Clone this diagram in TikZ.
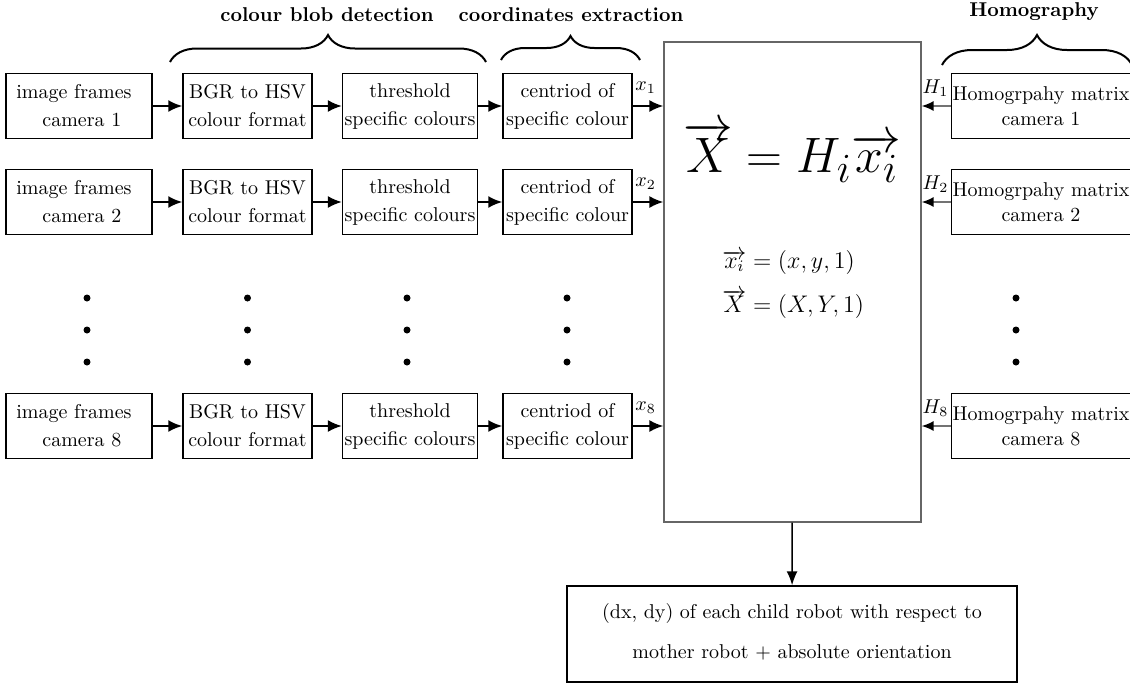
\documentclass[tikz,border=0pt]{standalone}
\usetikzlibrary{arrows.meta,decorations.pathreplacing}
\begin{document}
\begin{tikzpicture}[x=0.5pt,y=-0.5pt,
  stage/.style={draw, line width=0.7pt, minimum height=32.5pt, inner xsep=1pt,
    align=center, font=\fontsize{10}{14}\selectfont},
  hbox/.style={draw, line width=0.4pt, minimum height=32.5pt, minimum width=89pt,
    inner xsep=0.5pt, align=center, font=\fontsize{10}{12.5}\selectfont},
  flow/.style={line width=1pt, -{Latex[length=7pt,width=6pt]}},
  hflow/.style={draw=black!55, line width=0.8pt, -{Latex[length=6pt,width=5pt,color=black]}},
  head/.style={font=\bfseries},
  grp/.style={decorate, decoration={brace, amplitude=#1}, line width=1pt},
  dot/.style={circle, fill, inner sep=0pt, minimum size=3.5pt},
  lbl/.style={anchor=south, inner sep=0pt}
]
\useasboundingbox (0,0) rectangle (1130,687);

% central homography block
\node[draw=black!60, line width=0.6pt, minimum width=128.5pt, minimum height=240pt] (hom) at (792.5,282) {};
\node (eqmain) at (792.5,152) {\Huge$\overrightarrow{X} = H_i\overrightarrow{x_i}$};
\node[anchor=west, inner sep=0pt] (eqx) at (722,262) {\large$\overrightarrow{x_i} = (x, y, 1)$};
\node[anchor=west, inner sep=0pt] (eqX) at (722,304) {\large$\overrightarrow{X} = (X, Y, 1)$};

% one processing chain per camera
\foreach \n/\y in {1/106, 2/202, 8/426} {
  \node[stage, minimum width=73pt, align=left] (img\n) at (79,\y)
    {image frames\rule{5pt}{0pt}\\\hspace*{13pt}camera \n};
  \node[stage, minimum width=64.5pt] (bgr\n) at (247.5,\y) {BGR to HSV\\colour format};
  \node[stage, minimum width=67pt] (thr\n) at (410,\y) {threshold\\specific colours};
  \node[stage, minimum width=64.5pt] (cen\n) at (567.5,\y) {centriod of\\specific colour};
  \node[hbox] (hm\n) at (1041,\y) {Homogrpahy matrix\\camera \n};
  \draw[flow] (img\n) -- (bgr\n);
  \draw[flow] (bgr\n) -- (thr\n);
  \draw[flow] (thr\n) -- (cen\n);
  \draw[flow] (cen\n.east) -- (cen\n.east -| hom.west)
    node[lbl, pos=0.42, yshift=6pt] {$x_\n$};
  \draw[hflow] (hm\n.west) -- (hm\n.west -| hom.east)
    node[lbl, pos=0.53, yshift=4.5pt] {$H_\n$};
}

% ellipsis between camera 2 and camera 8
\foreach \c/\x in {a/87, b/247.5, c/407, d/567, e/1016}
  \foreach \r/\y in {1/298, 2/330, 3/362}
    \node[dot] (dot\c\r) at (\x,\y) {};

% group headings
\node[head] (hcb) at (327,15) {colour blob detection};
\node[head] (hce) at (571,15) {coordinates extraction};
\node[head] (hh) at (1034,12) {Homography};
\draw[grp=13.5pt] (170,62) -- (486,62);
\draw[grp=12pt] (501,60) -- (640,60);
\draw[grp=15pt] (942,65) -- (1132,65);

% result
\node[draw, line width=0.7pt, minimum width=225pt, minimum height=48pt] (out) at (792,634)
  {\begin{tabular}{c}(dx, dy) of each child robot with respect to\\[8pt]
   mother robot + absolute orientation\end{tabular}};
\draw[line width=0.8pt, -{Latex[length=7pt,width=5.5pt]}] (hom) -- (out);
\end{tikzpicture}
\end{document}
